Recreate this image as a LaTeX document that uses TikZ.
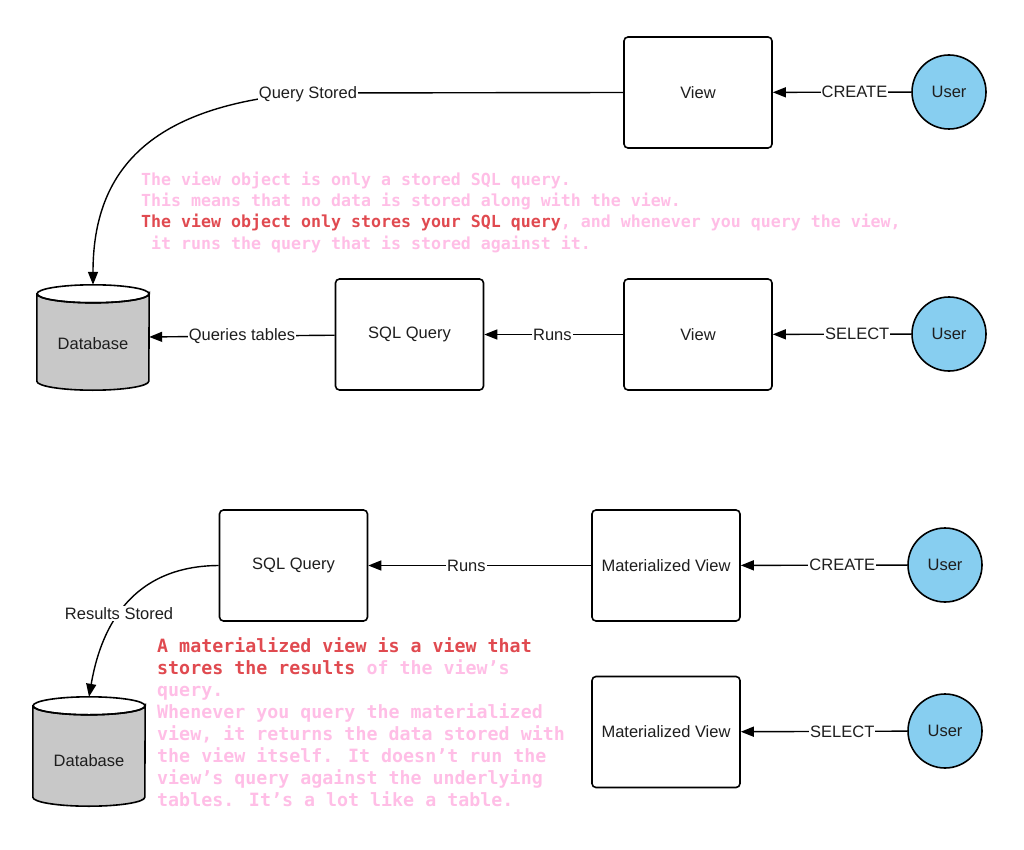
\documentclass[tikz,border=0pt]{standalone}
\usepackage{fontspec}
\setmainfont{Liberation Sans}
\newfontfamily\monofnt{DejaVu Sans Mono}
\usetikzlibrary{arrows.meta,backgrounds,calc}
\definecolor{pinktxt}{RGB}{255,190,230}
\definecolor{redtxt}{RGB}{224,74,80}
\definecolor{userfill}{RGB}{135,206,240}
\definecolor{dbfill}{RGB}{200,200,200}
\definecolor{labelcol}{RGB}{30,30,30}
\newcommand\dbcyl[1]{%
  \begin{scope}[on background layer]
    \filldraw[fill=dbfill, line width=1.6pt]
      ($(#1.north west)+(0,9)$) -- ($(#1.south west)+(0,-9)$)
      arc[start angle=180, end angle=360, x radius=56pt, y radius=9pt]
      -- ($(#1.north east)+(0,9)$)
      arc[start angle=0, end angle=-180, x radius=56pt, y radius=9pt] -- cycle;
    \draw[line width=1.6pt] ($(#1.north)+(0,9)$) ellipse[x radius=56pt, y radius=9pt];
  \end{scope}}
\begin{document}
\begin{tikzpicture}[x=1pt,y=-1pt,
  box/.style={draw, line width=1.6pt, rounded corners=4pt, minimum width=148pt,
    minimum height=111pt, fill=white, text=labelcol, font=\fontsize{16.5}{18}\selectfont},
  user/.style={circle, draw, line width=1.6pt, fill=userfill, minimum size=74pt,
    inner sep=0pt, text=labelcol, font=\fontsize{16.5}{18}\selectfont},
  dbnode/.style={draw=none, minimum width=112pt, inner sep=0pt, text=labelcol,
    font=\fontsize{16.5}{18}\selectfont},
  conn/.style={line width=1.4pt, -{Triangle[length=13pt,width=10pt]}},
  lbl/.style={fill=white, inner sep=1pt, text=labelcol, font=\fontsize{16.5}{18}\selectfont},
  topline/.style={anchor=base west, inner sep=0pt, text=pinktxt,
    font=\monofnt\bfseries\fontsize{16.6}{21}\selectfont},
  botline/.style={anchor=base west, inner sep=0pt, text=pinktxt,
    font=\monofnt\bfseries\fontsize{18.3}{22}\selectfont}
]
\useasboundingbox (0,0) rectangle (1024,850);

% ---- row 1
\node[box]  (view1) at (698,92.5) {View};
\node[user] (user1) at (949,92)   {User};
% ---- row 2
\node[dbnode, minimum height=105pt] (db1) at (93,337.5) {\raisebox{-11.5pt}[0pt][0pt]{Database}};
\dbcyl{db1}
\node[box]  (sql1)  at (409.5,334.5) {SQL Query};
\node[box]  (view2) at (698,334.5)   {View};
\node[user] (user2) at (949,334)     {User};
% ---- row 3
\node[box]  (sql2)  at (293.5,565.5) {SQL Query};
\node[box]  (mv1)   at (666,565.5)   {Materialized View};
\node[user] (user3) at (945,565)     {User};
% ---- row 4
\node[dbnode, minimum height=109pt] (db2) at (89,751.5) {\raisebox{-15pt}[0pt][0pt]{Database}};
\dbcyl{db2}
\node[box]  (mv2)   at (666,732)     {Materialized View};
\node[user] (user4) at (945,731)     {User};

% ---- connectors
\draw[conn] (user1) -- node[lbl,pos=0.41] (lcreate1) {CREATE} (view1);
\draw[conn] (view1.west) -- (308,93) node[lbl,yshift=-1pt] (lqs) {Query Stored}
  .. controls (150,105) and (93,170) .. (db1.north);
\draw[conn] (user2) -- node[lbl,pos=0.39] (lselect1) {SELECT} (view2);
\draw[conn] (view2) -- node[lbl,pos=0.51] (lruns1) {Runs} (sql1);
\draw[conn] (sql1) -- node[lbl,pos=0.5] (lqt) {Queries tables} (db1);
\draw[conn] (user3) -- node[lbl,pos=0.39] (lcreate2) {CREATE} (mv1);
\draw[conn] (mv1) -- node[lbl,pos=0.56] (lruns2) {Runs} (sql2);
\draw[conn] (sql2.west) .. controls (120,566) and (98,645) .. (db2.north)
  node[lbl,pos=0.51] (lrs) {Results Stored};
\draw[conn] (user4) -- node[lbl,pos=0.39] (lselect2) {SELECT} (mv2);

% ---- annotation texts
\node[topline] (ta) at (141,186) {The view object is only a stored SQL query.};
\node[topline] (tb) at (141,207) {This means that no data is stored along with the view.};
\node[topline] (tc) at (141,228) {\textcolor{redtxt}{The view object only stores your SQL query}, and whenever you query the view,};
\node[topline] (td) at (141,249) {\hspace*{10pt}it runs the query that is stored against it.};

\node[botline] (ba) at (157,652) {\textcolor{redtxt}{A materialized view is a view that}};
\node[botline] (bb) at (157,674) {\textcolor{redtxt}{stores the results} of the view’s};
\node[botline] (bc) at (157,696) {query.};
\node[botline] (bd) at (157,718) {Whenever you query the materialized};
\node[botline] (be) at (157,740) {view, it returns the data stored with};
\node[botline] (bf) at (157,762) {the view itself. It doesn’t run the};
\node[botline] (bg) at (157,784) {view’s query against the underlying};
\node[botline] (bh) at (157,806) {tables. It’s a lot like a table.};
\end{tikzpicture}
\end{document}
